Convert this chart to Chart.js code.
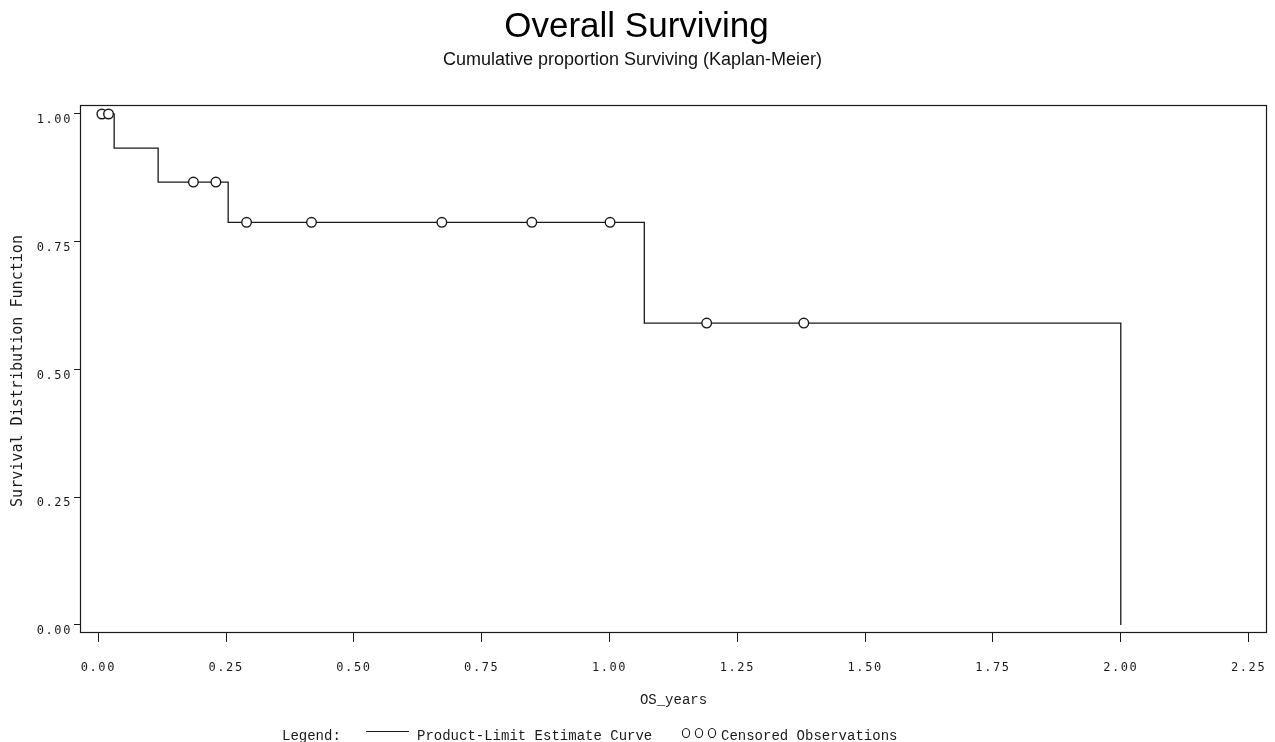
<!DOCTYPE html>
<html><head><meta charset="utf-8">
<script src="https://cdn.jsdelivr.net/npm/chart.js@4.4.1/dist/chart.umd.min.js"></script>
<style>html,body{margin:0;padding:0;background:#fff}#wrap{width:1275px;height:742px;position:relative}</style>
</head><body><div id="wrap"><canvas id="c" width="1275" height="742"></canvas></div>
<script>
// ---- data ----
const xTickValues = [0, 0.25, 0.5, 0.75, 1.0, 1.25, 1.5, 1.75, 2.0, 2.25];
const yTickValues = [0, 0.25, 0.5, 0.75, 1.0];
const eventTimes = [0, 0.031, 0.117, 0.254, 1.068, 2.0];
const survival   = [1.0, 0.9333, 0.8667, 0.7879, 0.5909, 0.0];
const censorTimes = [0.007, 0.020, 0.186, 0.230, 0.290, 0.417, 0.672, 0.848, 1.001, 1.190, 1.380];
const censorSurv  = [1.0, 1.0, 0.8667, 0.8667, 0.7879, 0.7879, 0.7879, 0.7879, 0.7879, 0.5909, 0.5909];
const titleText = 'Overall Surviving';
const subtitleText = 'Cumulative proportion Surviving (Kaplan-Meier)';
const xTitle = 'OS_years';
const yTitle = 'Survival Distribution Function';
const legendLabel = 'Legend:';
const curveLabel = 'Product-Limit Estimate Curve';
const censorLabel = 'Censored Observations';

const INK = '#1a1a1a';

const decor = {
  id: 'decor',
  beforeDraw(chart) {
    const ctx = chart.ctx;
    ctx.save();
    ctx.fillStyle = '#fff';
    ctx.fillRect(0, 0, chart.width, chart.height);
    ctx.restore();
    ctx.letterSpacing = '1.6px';
  },
  afterDraw(chart) {
    const ctx = chart.ctx;
    const a = chart.chartArea;
    ctx.save();
    ctx.letterSpacing = '0px';
    // plot frame
    ctx.strokeStyle = INK;
    ctx.lineWidth = 1.2;
    ctx.strokeRect(Math.round(a.left) + 0.5, Math.round(a.top) + 0.5,
                   Math.round(a.right - a.left) - 1, Math.round(a.bottom - a.top) - 1);
    // titles
    ctx.fillStyle = '#000';
    ctx.textAlign = 'center';
    ctx.textBaseline = 'alphabetic';
    ctx.font = '35px "Liberation Sans", Arial, sans-serif';
    ctx.fillText(titleText, chart.width / 2 - 1, 37);
    ctx.fillStyle = '#111';
    ctx.font = '18px "Liberation Sans", Arial, sans-serif';
    ctx.fillText(subtitleText, chart.width / 2 - 5, 65);
    // x-axis title
    ctx.fillStyle = INK;
    ctx.font = '14px "Liberation Mono", "Courier New", monospace';
    ctx.fillText(xTitle, (a.left + a.right) / 2, 704);
    // y-axis title
    ctx.save();
    ctx.translate(22, (a.top + a.bottom) / 2 + 2);
    ctx.rotate(-Math.PI / 2);
    ctx.font = '16px "DejaVu Sans Mono", monospace';
    const w = ctx.measureText(yTitle).width;
    ctx.scale(272 / w, 1);
    ctx.textAlign = 'center';
    ctx.fillText(yTitle, 0, 0);
    ctx.restore();
    // legend
    ctx.textAlign = 'left';
    ctx.font = '14px "Liberation Mono", "Courier New", monospace';
    ctx.fillText(legendLabel, 282, 740);
    ctx.beginPath();
    ctx.moveTo(366, 731.5);
    ctx.lineTo(409, 731.5);
    ctx.lineWidth = 1.2;
    ctx.stroke();
    ctx.fillText(curveLabel, 417, 740);
    ctx.lineWidth = 1.1;
    [686, 699, 712].forEach(cx => {
      ctx.beginPath();
      ctx.ellipse(cx, 733, 3.6, 4.5, 0, 0, Math.PI * 2);
      ctx.stroke();
    });
    ctx.fillText(censorLabel, 721, 740);
    ctx.restore();
  }
};

const tickFont = { family: '"DejaVu Sans Mono", monospace', size: 12 };

new Chart(document.getElementById('c'), {
  type: 'scatter',
  data: {
    datasets: [
      {
        label: censorLabel,
        data: censorTimes.map((t, i) => ({ x: t, y: censorSurv[i] })),
        showLine: false,
        pointStyle: 'circle',
        pointRadius: 4.8,
        pointBorderWidth: 1.4,
        pointBorderColor: INK,
        pointBackgroundColor: '#fff'
      },
      {
        label: curveLabel,
        data: eventTimes.map((t, i) => ({ x: t, y: survival[i] })),
        showLine: true,
        stepped: 'before',
        borderColor: INK,
        borderWidth: 1.3,
        pointRadius: 0,
        fill: false
      }
    ]
  },
  options: {
    responsive: false,
    animation: false,
    events: [],
    layout: { padding: { top: 105, left: 0, right: 8, bottom: 0 } },
    plugins: { legend: { display: false }, tooltip: { enabled: false }, title: { display: false } },
    scales: {
      x: {
        type: 'linear',
        min: -0.0358,
        max: 2.286,
        afterFit(scale) { scale.height = 109; scale.paddingLeft = 0; scale.paddingRight = 0; },
        afterBuildTicks(scale) { scale.ticks = xTickValues.map(v => ({ value: v })); },
        border: { display: false },
        grid: { drawOnChartArea: false, drawTicks: true, tickLength: 9, color: INK, lineWidth: 1 },
        ticks: {
          color: INK, font: tickFont, padding: 19, maxRotation: 0, autoSkip: false,
          callback: v => Number(v).toFixed(2)
        }
      },
      y: {
        type: 'linear',
        min: -0.0157,
        max: 1.0176,
        afterFit(scale) { scale.width = 80; scale.paddingTop = 0; scale.paddingBottom = 0; },
        afterBuildTicks(scale) { scale.ticks = yTickValues.map(v => ({ value: v })); },
        border: { display: false },
        grid: { drawOnChartArea: false, drawTicks: true, tickLength: 6, color: INK, lineWidth: 1 },
        ticks: {
          color: INK, font: tickFont, padding: 2, labelOffset: 6, autoSkip: false,
          callback: v => Number(v).toFixed(2)
        }
      }
    }
  },
  plugins: [decor]
});
</script>
</body></html>
